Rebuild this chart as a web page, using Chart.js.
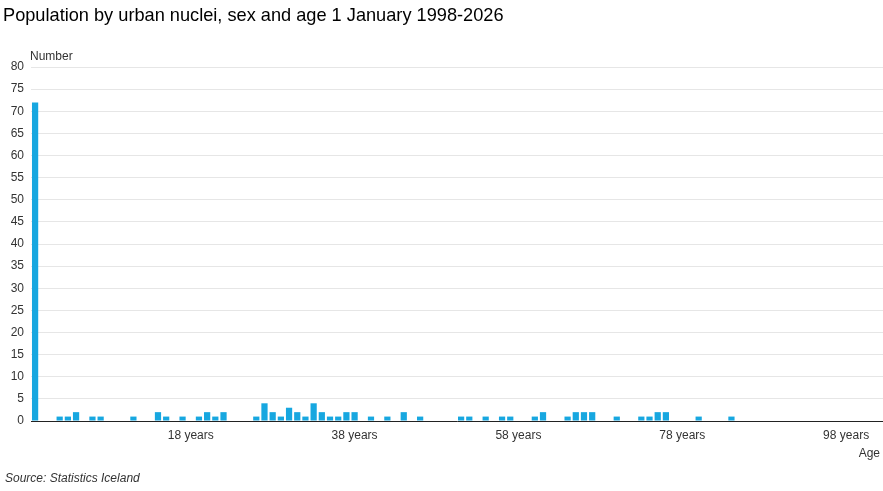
<!DOCTYPE html>
<html>
<head>
<meta charset="utf-8">
<script src="https://cdn.jsdelivr.net/npm/chart.js@4/dist/chart.umd.min.js"></script>
<style>
  html, body { margin: 0; padding: 0; background: #fff; }
  #wrap { position: relative; width: 883px; height: 491px; }
</style>
</head>
<body>
<div id="wrap"><canvas id="c" width="883" height="491"></canvas></div>
<script>
const chartTitle = "Population by urban nuclei, sex and age 1 January 1998-2026";
const sourceText = "Source: Statistics Iceland";
const yAxisTitle = "Number";
const xAxisTitle = "Age";

// Category labels: Total, then ages 0..102
const ageLabels = [];
for (let a = 0; a <= 102; a++) ageLabels.push(a === 1 ? "1 year" : a + " years");
const categories = ["Total"].concat(ageLabels);

const totalValue = [72];
const ageValues = [
  0,0,1,1,2,0,1,1,0,0,   // 0-9
  0,1,0,0,2,1,0,1,0,1,   // 10-19
  2,1,2,0,0,0,1,4,2,1,   // 20-29
  3,2,1,4,2,1,1,2,2,0,   // 30-39
  1,0,1,0,2,0,1,0,0,0,   // 40-49
  0,1,1,0,1,0,1,1,0,0,   // 50-59
  1,2,0,0,1,2,2,2,0,0,   // 60-69
  1,0,0,1,1,2,2,0,0,0,   // 70-79
  1,0,0,0,1,0,0,0,0,0,   // 80-89
  0,0,0,0,0,0,0,0,0,0,   // 90-99
  0,0,0                  // 100-102
];
const values = totalValue.concat(ageValues);
const shownTickLabels = ["18 years", "38 years", "58 years", "78 years", "98 years"];

const FONT = "'Liberation Sans', Arial, sans-serif";

const textPlugin = {
  id: 'texts',
  afterDraw(chart) {
    const ctx = chart.ctx;
    ctx.save();
    ctx.fillStyle = '#000';
    ctx.textBaseline = 'middle';
    ctx.font = "18.2px " + FONT;
    ctx.textAlign = 'left';
    ctx.fillText(chartTitle, 3, 16);
    ctx.fillStyle = '#333';
    ctx.font = "12px " + FONT;
    ctx.fillText(yAxisTitle, 30, 57);
    ctx.textAlign = 'right';
    ctx.fillText(xAxisTitle, 880, 454);
    ctx.textAlign = 'left';
    ctx.font = "italic 12px " + FONT;
    ctx.fillText(sourceText, 5, 479);
    ctx.restore();
  }
};

new Chart(document.getElementById('c'), {
  type: 'bar',
  data: {
    labels: categories,
    datasets: [{
      data: values,
      backgroundColor: '#17a7e0',
      borderWidth: 0,
      barPercentage: 0.76,
      categoryPercentage: 1.0
    }]
  },
  options: {
    responsive: false,
    animation: false,
    layout: { padding: { top: 67, right: 0, bottom: 0, left: 0 } },
    plugins: { legend: { display: false }, tooltip: { enabled: false }, title: { display: false } },
    scales: {
      x: {
        afterFit(scale) { scale.height = 70; scale.paddingLeft = 0; scale.paddingRight = 0; },
        grid: { display: false, drawTicks: false },
        border: { display: true, color: '#222', width: 1 },
        ticks: {
          autoSkip: false,
          maxRotation: 0,
          minRotation: 0,
          padding: 7,
          color: '#333',
          font: { family: FONT, size: 12 },
          callback(value, index) {
            const l = categories[index];
            return shownTickLabels.includes(l) ? l : '';
          }
        }
      },
      y: {
        min: 0,
        max: 80,
        afterFit(scale) { scale.width = 31; },
        grid: { color: '#e6e6e6', drawTicks: false, tickLength: 0 },
        border: { display: false },
        ticks: {
          stepSize: 5,
          padding: 7,
          color: '#333',
          font: { family: FONT, size: 12 }
        }
      }
    }
  },
  plugins: [textPlugin]
});
</script>
</body>
</html>
